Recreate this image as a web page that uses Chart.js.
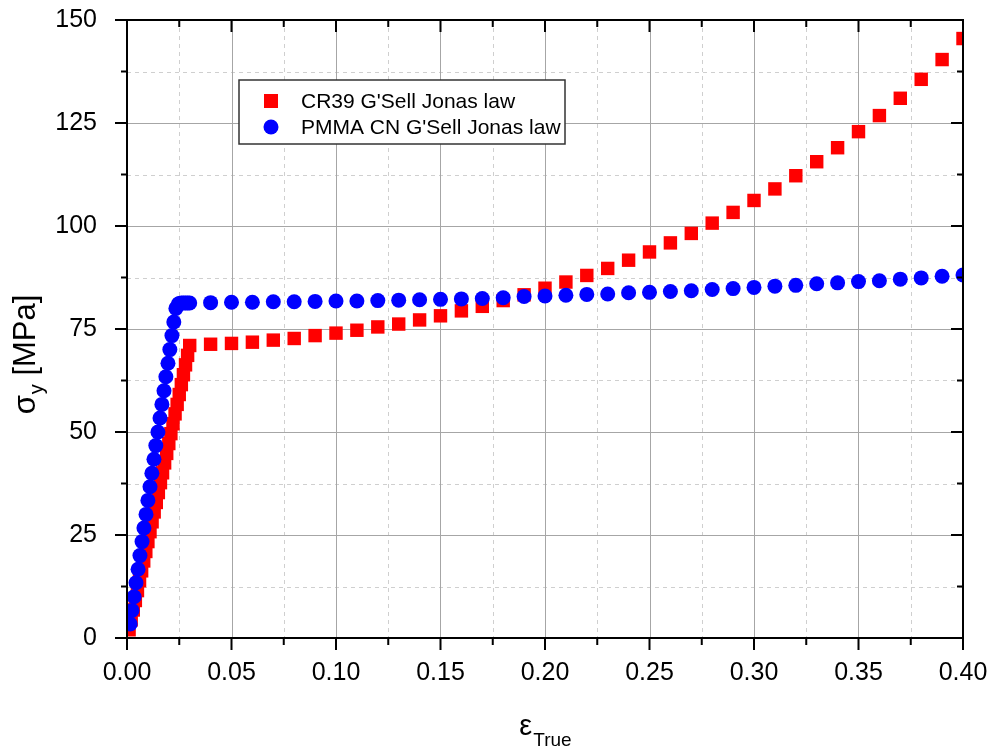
<!DOCTYPE html>
<html>
<head>
<meta charset="utf-8">
<script src="https://cdn.jsdelivr.net/npm/chart.js@4.4.0/dist/chart.umd.min.js"></script>
<style>
  body { margin: 0; background: #fff; }
  canvas { display: block; }
</style>
</head>
<body>
<canvas id="chart" width="993" height="750"></canvas>
<script>
// CR39 G'Sell Jonas law (red squares)
var cr39Strain = [0.001, 0.002, 0.003, 0.004, 0.005, 0.006, 0.007, 0.008, 0.009, 0.010,
    0.011, 0.012, 0.013, 0.014, 0.015, 0.016, 0.017, 0.018, 0.019, 0.020,
    0.021, 0.022, 0.023, 0.024, 0.025, 0.026, 0.027, 0.028, 0.029, 0.030,
    0.04, 0.05, 0.06, 0.07, 0.08, 0.09, 0.10, 0.11, 0.12, 0.13, 0.14, 0.15, 0.16, 0.17, 0.18,
    0.19, 0.20, 0.21, 0.22, 0.23, 0.24, 0.25, 0.26, 0.27, 0.28, 0.29, 0.30, 0.31, 0.32, 0.33,
    0.34, 0.35, 0.36, 0.37, 0.38, 0.39, 0.40];
var cr39Stress = [2.0, 4.4, 6.8, 9.1, 11.5, 13.9, 16.3, 18.7, 21.0, 23.4,
    25.8, 28.2, 30.6, 32.9, 35.3, 37.7, 40.1, 42.5, 44.8, 47.2,
    49.6, 52.0, 54.4, 56.7, 59.1, 61.5, 63.9, 66.3, 68.6, 71.0,
    71.3, 71.5, 71.8, 72.3, 72.7, 73.4, 74.0, 74.7, 75.5, 76.2, 77.2, 78.2, 79.4, 80.5, 81.9,
    83.3, 84.9, 86.4, 88.0, 89.7, 91.7, 93.7, 95.9, 98.2, 100.7, 103.3, 106.2, 109.0, 112.2, 115.6,
    119.0, 122.9, 126.8, 131.0, 135.6, 140.4, 145.5];

// PMMA CN G'Sell Jonas law (blue circles)
var pmmaStrain = [0.0015, 0.0024, 0.0034, 0.0043, 0.0053, 0.0062, 0.0072, 0.0081, 0.0091, 0.0100,
    0.0110, 0.0119, 0.0129, 0.0138, 0.0148, 0.0158, 0.0167, 0.0177, 0.0186, 0.0196,
    0.0205, 0.0215, 0.0224, 0.0234, 0.0245, 0.025, 0.026, 0.027, 0.028, 0.029, 0.030,
    0.04, 0.05, 0.06, 0.07, 0.08, 0.09, 0.10, 0.11, 0.12, 0.13, 0.14, 0.15, 0.16, 0.17, 0.18,
    0.19, 0.20, 0.21, 0.22, 0.23, 0.24, 0.25, 0.26, 0.27, 0.28, 0.29, 0.30, 0.31, 0.32, 0.33,
    0.34, 0.35, 0.36, 0.37, 0.38, 0.39, 0.40];
var pmmaStress = [3.4, 6.7, 10.0, 13.4, 16.7, 20.0, 23.4, 26.7, 30.0, 33.4,
    36.7, 40.0, 43.4, 46.7, 50.0, 53.4, 56.7, 60.0, 63.4, 66.7,
    70.0, 73.4, 76.7, 80.0, 81.0, 81.2, 81.3, 81.3, 81.3, 81.3, 81.3,
    81.4, 81.5, 81.5, 81.6, 81.6, 81.7, 81.8, 81.8, 81.9, 82.0, 82.1, 82.2, 82.3, 82.4, 82.6,
    82.9, 83.0, 83.2, 83.4, 83.5, 83.8, 83.9, 84.1, 84.3, 84.6, 84.8, 85.1, 85.4, 85.6, 86.0,
    86.2, 86.5, 86.7, 87.1, 87.4, 87.8, 88.1];

var xMajor = [0, 0.05, 0.10, 0.15, 0.20, 0.25, 0.30, 0.35, 0.40];
var xMinor = [0.025, 0.075, 0.125, 0.175, 0.225, 0.275, 0.325, 0.375];
var yMajor = [0, 25, 50, 75, 100, 125, 150];
var yMinor = [12.5, 37.5, 62.5, 87.5, 112.5, 137.5];

var seriesLabels = ["CR39 G'Sell Jonas law", "PMMA CN G'Sell Jonas law"];

var FONT = 'Arial, "Liberation Sans", sans-serif';

function toPoints(xs, ys) {
    var pts = [];
    for (var i = 0; i < xs.length; i++) pts.push({x: xs[i], y: ys[i]});
    return pts;
}
function isIn(arr, v) {
    for (var i = 0; i < arr.length; i++) if (Math.abs(arr[i] - v) < 1e-9) return true;
    return false;
}
function tickList(major, minor) {
    return major.concat(minor).sort(function (a, b) { return a - b; })
        .map(function (v) { return {value: v}; });
}

var framePlugin = {
    id: 'frame',
    beforeDatasetsDraw: function (chart) {
        var ctx = chart.ctx, a = chart.chartArea;
        var xs = chart.scales.x, ys = chart.scales.y;
        ctx.save();
        ctx.lineWidth = 1;
        // minor grid, dashed
        ctx.strokeStyle = '#cfcfcf';
        ctx.setLineDash([4, 4]);
        xMinor.forEach(function (v) {
            var p = Math.round(xs.getPixelForValue(v)) + 0.5;
            ctx.beginPath(); ctx.moveTo(p, a.top); ctx.lineTo(p, a.bottom); ctx.stroke();
        });
        yMinor.forEach(function (v) {
            var p = Math.round(ys.getPixelForValue(v)) + 0.5;
            ctx.beginPath(); ctx.moveTo(a.left, p); ctx.lineTo(a.right, p); ctx.stroke();
        });
        // major grid
        ctx.setLineDash([]);
        ctx.strokeStyle = '#a6a6a6';
        xMajor.forEach(function (v) {
            var p = Math.round(xs.getPixelForValue(v)) + 0.5;
            ctx.beginPath(); ctx.moveTo(p, a.top); ctx.lineTo(p, a.bottom); ctx.stroke();
        });
        yMajor.forEach(function (v) {
            var p = Math.round(ys.getPixelForValue(v)) + 0.5;
            ctx.beginPath(); ctx.moveTo(a.left, p); ctx.lineTo(a.right, p); ctx.stroke();
        });
        ctx.restore();
    },
    afterDatasetsDraw: function (chart) {
        var ctx = chart.ctx, a = chart.chartArea;
        var xs = chart.scales.x, ys = chart.scales.y;
        ctx.save();
        ctx.strokeStyle = '#000';
        ctx.lineWidth = 2;
        ctx.strokeRect(a.left, a.top, a.right - a.left, a.bottom - a.top);
        // ticks: out on bottom/left, in on top/right
        xMajor.concat(xMinor).forEach(function (v) {
            var p = xs.getPixelForValue(v);
            var len = isIn(xMajor, v) ? 12 : 7;
            ctx.beginPath();
            ctx.moveTo(p, a.bottom); ctx.lineTo(p, a.bottom + len);
            ctx.moveTo(p, a.top); ctx.lineTo(p, a.top + len);
            ctx.stroke();
        });
        yMajor.concat(yMinor).forEach(function (v) {
            var p = ys.getPixelForValue(v);
            var len = isIn(yMajor, v) ? 12 : 6;
            ctx.beginPath();
            ctx.moveTo(a.left, p); ctx.lineTo(a.left - len, p);
            ctx.moveTo(a.right, p); ctx.lineTo(a.right - len, p);
            ctx.stroke();
        });
        ctx.restore();
    },
    afterDraw: function (chart) {
        var ctx = chart.ctx, a = chart.chartArea;
        ctx.save();
        ctx.fillStyle = '#000';
        ctx.textBaseline = 'alphabetic';

        // x title: epsilon with subscript "True"
        ctx.font = '29px ' + FONT;
        var w1 = ctx.measureText('\u03b5').width;
        ctx.font = '19px ' + FONT;
        var w2 = ctx.measureText('True').width;
        var x0 = (a.left + a.right) / 2 - (w1 + w2) / 2;
        ctx.font = '29px ' + FONT;
        ctx.fillText('\u03b5', x0, 735);
        ctx.font = '19px ' + FONT;
        ctx.fillText('True', x0 + w1 + 1, 746);

        // y title: sigma_y [MPa], rotated
        ctx.save();
        ctx.translate(35, 355);
        ctx.rotate(-Math.PI / 2);
        ctx.font = '31px ' + FONT;
        var s1 = ctx.measureText('\u03c3').width;
        var s3 = ctx.measureText(' [MPa]').width;
        ctx.font = '20px ' + FONT;
        var s2 = ctx.measureText('y').width;
        var sx = -(s1 + s2 + s3) / 2;
        ctx.font = '31px ' + FONT;
        ctx.fillText('\u03c3', sx, 0);
        ctx.font = '20px ' + FONT;
        ctx.fillText('y', sx + s1 + 1, 8);
        ctx.font = '31px ' + FONT;
        ctx.fillText(' [MPa]', sx + s1 + s2 + 1, 0);
        ctx.restore();

        // legend box
        var lx = 239, ly = 80, lw = 326, lh = 64;
        ctx.fillStyle = '#fff';
        ctx.fillRect(lx, ly, lw, lh);
        ctx.strokeStyle = '#333';
        ctx.lineWidth = 1.5;
        ctx.strokeRect(lx, ly, lw, lh);
        ctx.font = '21px ' + FONT;
        ctx.textBaseline = 'middle';
        var rows = [ly + 21, ly + 47];
        ctx.fillStyle = '#ff0000';
        ctx.fillRect(271 - 7, rows[0] - 7, 14, 14);
        ctx.fillStyle = '#0000ff';
        ctx.beginPath(); ctx.arc(271, rows[1], 7.5, 0, Math.PI * 2); ctx.fill();
        ctx.fillStyle = '#000';
        ctx.fillText(seriesLabels[0], 301, rows[0] + 1);
        ctx.fillText(seriesLabels[1], 301, rows[1] + 1);
        ctx.restore();
    }
};

var chart = new Chart(document.getElementById('chart').getContext('2d'), {
    type: 'scatter',
    data: {
        datasets: [
            {
                label: seriesLabels[0],
                data: toPoints(cr39Strain, cr39Stress),
                pointStyle: 'rect',
                pointRadius: 9.5,
                backgroundColor: '#ff0000',
                borderWidth: 0,
                clip: 0,
                order: 2
            },
            {
                label: seriesLabels[1],
                data: toPoints(pmmaStrain, pmmaStress),
                pointStyle: 'circle',
                pointRadius: 7.5,
                backgroundColor: '#0000ff',
                borderWidth: 0,
                clip: 0,
                order: 1
            }
        ]
    },
    options: {
        responsive: false,
        animation: false,
        events: [],
        layout: { padding: { top: 20, right: 30, left: 0, bottom: 0 } },
        plugins: { legend: { display: false }, tooltip: { enabled: false } },
        scales: {
            x: {
                type: 'linear', min: 0, max: 0.4,
                afterBuildTicks: function (s) { s.ticks = tickList(xMajor, xMinor); },
                afterFit: function (s) {
                    s.height = 112;
                    s.paddingLeft = 0; s.paddingRight = 0;
                },
                grid: { display: false },
                border: { display: false },
                ticks: {
                    autoSkip: false, maxRotation: 0, padding: 12, color: '#000',
                    font: { family: FONT, size: 25 },
                    callback: function (v) { return isIn(xMajor, v) ? v.toFixed(2) : ''; }
                }
            },
            y: {
                type: 'linear', min: 0, max: 150,
                afterBuildTicks: function (s) { s.ticks = tickList(yMajor, yMinor); },
                afterFit: function (s) {
                    s.width = 127;
                    s.paddingTop = 0; s.paddingBottom = 0;
                },
                grid: { display: false },
                border: { display: false },
                ticks: {
                    autoSkip: false, padding: 22, color: '#000',
                    font: { family: FONT, size: 25 },
                    callback: function (v) { return isIn(yMajor, v) ? String(v) : ''; }
                }
            }
        }
    },
    plugins: [framePlugin]
});
</script>
</body>
</html>
